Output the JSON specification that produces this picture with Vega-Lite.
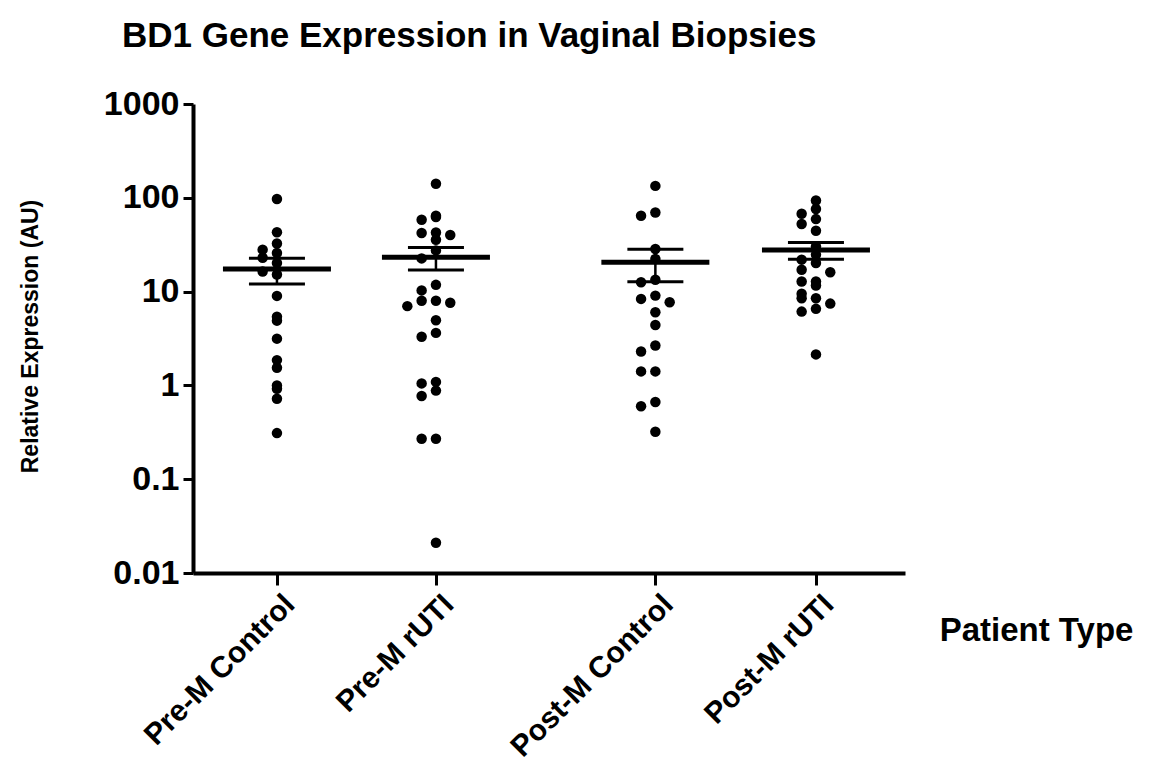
{
  "$schema": "https://vega.github.io/schema/vega-lite/v6.json",
  "autosize": "none",
  "width": 712,
  "height": 469,
  "padding": {"left": 193, "top": 104, "right": 246, "bottom": 193},
  "background": "white",
  "title": {
    "text": "BD1 Gene Expression in Vaginal Biopsies",
    "anchor": "start",
    "frame": "group",
    "dx": -71,
    "offset": 33,
    "font": "Liberation Sans",
    "fontSize": 35,
    "fontWeight": "bold",
    "color": "black"
  },
  "config": {
    "view": {"stroke": null},
    "font": "Liberation Sans"
  },
  "datasets": {
    "expr": [
      {"group": "Pre-M Control", "value": 97},
      {"group": "Pre-M Control", "value": 43},
      {"group": "Pre-M Control", "value": 32.6},
      {"group": "Pre-M Control", "value": 28},
      {"group": "Pre-M Control", "value": 25.8},
      {"group": "Pre-M Control", "value": 23},
      {"group": "Pre-M Control", "value": 20.2},
      {"group": "Pre-M Control", "value": 16.4},
      {"group": "Pre-M Control", "value": 15.2},
      {"group": "Pre-M Control", "value": 9.0},
      {"group": "Pre-M Control", "value": 5.4},
      {"group": "Pre-M Control", "value": 4.9},
      {"group": "Pre-M Control", "value": 3.15},
      {"group": "Pre-M Control", "value": 1.86},
      {"group": "Pre-M Control", "value": 1.54},
      {"group": "Pre-M Control", "value": 1.0},
      {"group": "Pre-M Control", "value": 0.92},
      {"group": "Pre-M Control", "value": 0.72},
      {"group": "Pre-M Control", "value": 0.31},
      {"group": "Pre-M rUTI", "value": 141},
      {"group": "Pre-M rUTI", "value": 64.4},
      {"group": "Pre-M rUTI", "value": 62.3},
      {"group": "Pre-M rUTI", "value": 58.3},
      {"group": "Pre-M rUTI", "value": 42.7},
      {"group": "Pre-M rUTI", "value": 42.1},
      {"group": "Pre-M rUTI", "value": 40.1},
      {"group": "Pre-M rUTI", "value": 35.7},
      {"group": "Pre-M rUTI", "value": 27.5},
      {"group": "Pre-M rUTI", "value": 22.6},
      {"group": "Pre-M rUTI", "value": 11.8},
      {"group": "Pre-M rUTI", "value": 10.3},
      {"group": "Pre-M rUTI", "value": 8.0},
      {"group": "Pre-M rUTI", "value": 8.0},
      {"group": "Pre-M rUTI", "value": 7.6},
      {"group": "Pre-M rUTI", "value": 7.0},
      {"group": "Pre-M rUTI", "value": 4.95},
      {"group": "Pre-M rUTI", "value": 3.63},
      {"group": "Pre-M rUTI", "value": 3.3},
      {"group": "Pre-M rUTI", "value": 1.09},
      {"group": "Pre-M rUTI", "value": 1.05},
      {"group": "Pre-M rUTI", "value": 0.88},
      {"group": "Pre-M rUTI", "value": 0.77},
      {"group": "Pre-M rUTI", "value": 0.27},
      {"group": "Pre-M rUTI", "value": 0.27},
      {"group": "Pre-M rUTI", "value": 0.021},
      {"group": "Post-M Control", "value": 134},
      {"group": "Post-M Control", "value": 69.8},
      {"group": "Post-M Control", "value": 64.4},
      {"group": "Post-M Control", "value": 28.5},
      {"group": "Post-M Control", "value": 22.3},
      {"group": "Post-M Control", "value": 13.4},
      {"group": "Post-M Control", "value": 12.6},
      {"group": "Post-M Control", "value": 9.06},
      {"group": "Post-M Control", "value": 8.36},
      {"group": "Post-M Control", "value": 7.7},
      {"group": "Post-M Control", "value": 6.03},
      {"group": "Post-M Control", "value": 4.4},
      {"group": "Post-M Control", "value": 2.66},
      {"group": "Post-M Control", "value": 2.3},
      {"group": "Post-M Control", "value": 1.41},
      {"group": "Post-M Control", "value": 1.41},
      {"group": "Post-M Control", "value": 0.665},
      {"group": "Post-M Control", "value": 0.6},
      {"group": "Post-M Control", "value": 0.32},
      {"group": "Post-M rUTI", "value": 93.6},
      {"group": "Post-M rUTI", "value": 75.9},
      {"group": "Post-M rUTI", "value": 67.6},
      {"group": "Post-M rUTI", "value": 59.3},
      {"group": "Post-M rUTI", "value": 52.5},
      {"group": "Post-M rUTI", "value": 44.6},
      {"group": "Post-M rUTI", "value": 30.3},
      {"group": "Post-M rUTI", "value": 24.8},
      {"group": "Post-M rUTI", "value": 21.9},
      {"group": "Post-M rUTI", "value": 20.2},
      {"group": "Post-M rUTI", "value": 17.1},
      {"group": "Post-M rUTI", "value": 16.1},
      {"group": "Post-M rUTI", "value": 12.8},
      {"group": "Post-M rUTI", "value": 12.8},
      {"group": "Post-M rUTI", "value": 11.6},
      {"group": "Post-M rUTI", "value": 9.5},
      {"group": "Post-M rUTI", "value": 8.5},
      {"group": "Post-M rUTI", "value": 8.5},
      {"group": "Post-M rUTI", "value": 7.45},
      {"group": "Post-M rUTI", "value": 6.55},
      {"group": "Post-M rUTI", "value": 6.12},
      {"group": "Post-M rUTI", "value": 2.14}
    ]
  },
  "data": {"name": "expr"},
  "encoding": {
    "y": {
      "type": "quantitative",
      "scale": {"type": "log", "domain": [0.01, 1000], "nice": false},
      "axis": {
        "values": [0.01, 0.1, 1, 10, 100, 1000],
        "format": "~g",
        "title": "Relative Expression (AU)",
        "titleFont": "Liberation Sans",
        "titleFontSize": 23,
        "titleFontWeight": "bold",
        "titleColor": "black",
        "titleX": -163,
        "titleY": 232,
        "titleAngle": -90,
        "titleAlign": "center",
        "titleBaseline": "middle",
        "labelFont": "Liberation Sans",
        "labelFontSize": 34,
        "labelFontWeight": "bold",
        "labelColor": "black",
        "labelPadding": 4,
        "labelFlush": false,
        "labelOverlap": false,
        "domainColor": "black",
        "domainWidth": 4,
        "tickColor": "black",
        "tickWidth": 3,
        "tickSize": 10,
        "grid": false
      }
    }
  },
  "layer": [
    {
      "transform": [
        {"calculate": "log(datum.value)/LN10", "as": "lv"},
        {"calculate": "floor(datum.lv/0.12)", "as": "b"},
        {"window": [{"op": "row_number", "as": "rn"}], "groupby": ["group", "b"], "sort": [{"field": "value", "order": "descending"}]},
        {"calculate": "datum.rn % 2 == 1 ? (datum.rn - 1) / 2 : -datum.rn / 2", "as": "slot"},
        {"calculate": "[1, 2, 3.38, 4.39][indexof(['Pre-M Control', 'Pre-M rUTI', 'Post-M Control', 'Post-M rUTI'], datum.group)]", "as": "gx"},
        {"calculate": "datum.gx + datum.slot * 0.09", "as": "px"}
      ],
      "mark": {"type": "circle", "size": 110, "color": "black", "opacity": 1},
      "encoding": {
        "x": {
          "field": "px",
          "type": "quantitative",
          "scale": {"domain": [0.472, 4.95], "nice": false, "zero": false},
          "axis": {
            "values": [1, 2, 3.38, 4.39],
            "labelExpr": "datum.value == 1 ? 'Pre-M Control' : datum.value == 2 ? 'Pre-M rUTI' : datum.value == 3.38 ? 'Post-M Control' : 'Post-M rUTI'",
            "labelAngle": -45,
            "labelAlign": "right",
            "labelBaseline": "top",
            "labelFont": "Liberation Sans",
            "labelFontSize": 30,
            "labelFontWeight": "bold",
            "labelColor": "black",
            "labelPadding": 4,
            "labelOffset": 2,
            "labelLimit": 0,
            "labelOverlap": false,
            "labelFlush": false,
            "title": "Patient Type",
            "titleFont": "Liberation Sans",
            "titleFontSize": 33,
            "titleFontWeight": "bold",
            "titleColor": "black",
            "titleX": 843,
            "titleY": 57,
            "titleAlign": "center",
            "titleBaseline": "middle",
            "domainColor": "black",
            "domainWidth": 4,
            "tickColor": "black",
            "tickWidth": 3,
            "tickSize": 12,
            "grid": false
          }
        },
        "y": {"field": "value"}
      }
    },
    {
      "transform": [
        {"aggregate": [{"op": "mean", "field": "value", "as": "m"}, {"op": "stderr", "field": "value", "as": "se"}], "groupby": ["group"]},
        {"calculate": "[1, 2, 3.38, 4.39][indexof(['Pre-M Control', 'Pre-M rUTI', 'Post-M Control', 'Post-M rUTI'], datum.group)]", "as": "gx"},
        {"calculate": "datum.m - datum.se", "as": "lo"},
        {"calculate": "datum.m + datum.se", "as": "hi"}
      ],
      "layer": [
        {
          "mark": {"type": "rule", "color": "black", "strokeWidth": 2.5},
          "encoding": {
            "x": {"field": "gx", "type": "quantitative"},
            "y": {"field": "lo"},
            "y2": {"field": "hi"}
          }
        },
        {
          "mark": {"type": "tick", "orient": "horizontal", "color": "black", "size": 56, "thickness": 3, "opacity": 1},
          "encoding": {
            "x": {"field": "gx", "type": "quantitative"},
            "y": {"field": "lo"}
          }
        },
        {
          "mark": {"type": "tick", "orient": "horizontal", "color": "black", "size": 56, "thickness": 3, "opacity": 1},
          "encoding": {
            "x": {"field": "gx", "type": "quantitative"},
            "y": {"field": "hi"}
          }
        },
        {
          "mark": {"type": "tick", "orient": "horizontal", "color": "black", "size": 108, "thickness": 5, "opacity": 1},
          "encoding": {
            "x": {"field": "gx", "type": "quantitative"},
            "y": {"field": "m"}
          }
        }
      ]
    }
  ]
}
